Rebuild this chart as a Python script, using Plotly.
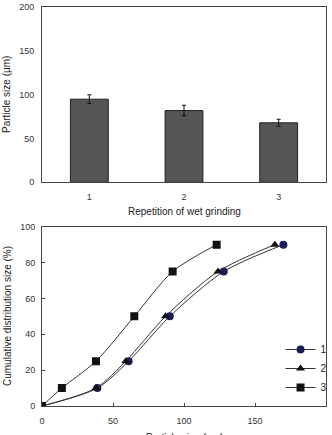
import plotly.graph_objects as go

# Top chart data
reps = [1, 2, 3]
mean_size = [95, 82, 68]
err_size = [5, 6, 4]

# Bottom chart data
cum_pct = [0, 10, 25, 50, 75, 90]
size_1 = [0, 39, 61, 90, 128, 170]
size_2 = [0, 38, 59, 87, 124, 164]
size_3 = [0, 14, 38, 65, 92, 123]
series_names = ["1", "2", "3"]

W, H = 332, 435
font = dict(family="Liberation Sans, Arial, sans-serif", size=9, color="#333")
tfont = dict(family="Liberation Sans, Arial, sans-serif", size=10, color="#222")

fig = go.Figure()
fig.add_trace(go.Bar(
    x=reps, y=mean_size, width=0.4,
    marker=dict(color="#555555", line=dict(color="#222", width=1)),
    error_y=dict(type="data", array=err_size, color="#111", thickness=1, width=2),
    showlegend=False, xaxis="x", yaxis="y"))

markers = ["circle", "triangle-up", "square"]
mcolors = ["#1c1c5a", "#111111", "#111111"]
for name, xs, sym, mc in zip(series_names, [size_1, size_2, size_3], markers, mcolors):
    fig.add_trace(go.Scatter(
        x=xs, y=cum_pct, name=name, mode="lines+markers",
        line=dict(color="#333", width=1, shape="spline", smoothing=0.8),
        marker=dict(symbol=sym, size=8, color=mc, line=dict(width=0)),
        xaxis="x2", yaxis="y2"))

xd = [42 / W, 326 / W]
axis_common = dict(showline=True, linecolor="#444", linewidth=1, mirror=True,
                   showgrid=False, zeroline=False, ticklen=3,
                   tickcolor="#444", tickfont=font, automargin=False)

xmid = (xd[0] + xd[1]) / 2
titles = [
    dict(text="Repetition of wet grinding", x=xmid, y=(H - 211) / H, textangle=0),
    dict(text="Particle size (µm)", x=xmid, y=(H - 437) / H, textangle=0),
    dict(text="Particle size (µm)", x=7 / W, y=(H - 95) / H, textangle=-90),
    dict(text="Cumulative distribution size (%)", x=7 / W, y=(H - 316) / H, textangle=-90),
]
annotations = [dict(xref="paper", yref="paper", xanchor="center", yanchor="middle",
                    showarrow=False, font=tfont, **t) for t in titles]

fig.update_layout(
    width=W, height=H, margin=dict(l=0, r=0, t=0, b=0),
    paper_bgcolor="white", plot_bgcolor="white", font=font,
    xaxis=dict(domain=xd, anchor="y", range=[0.5, 3.5], tickvals=reps,
               ticks="", ticklabelstandoff=6, **axis_common),
    yaxis=dict(domain=[(H - 182.3) / H, (H - 7.3) / H], anchor="x", range=[0, 200],
               dtick=50, ticks="", ticklabelstandoff=5, **axis_common),
    xaxis2=dict(domain=xd, anchor="y2", range=[0, 200], dtick=50,
                ticks="inside", ticklabelstandoff=6, **axis_common),
    yaxis2=dict(domain=[(H - 406) / H, (H - 226.7) / H], anchor="x2", range=[0, 100],
                dtick=20, ticks="inside", ticklabelstandoff=4, **axis_common),
    annotations=annotations,
    legend=dict(x=0.845, y=(H - 335) / H, xanchor="left", yanchor="top",
                bgcolor="rgba(0,0,0,0)", font=dict(size=10, color="#222"),
                itemwidth=30, tracegroupgap=0),
)

fig.write_html("out.html")
